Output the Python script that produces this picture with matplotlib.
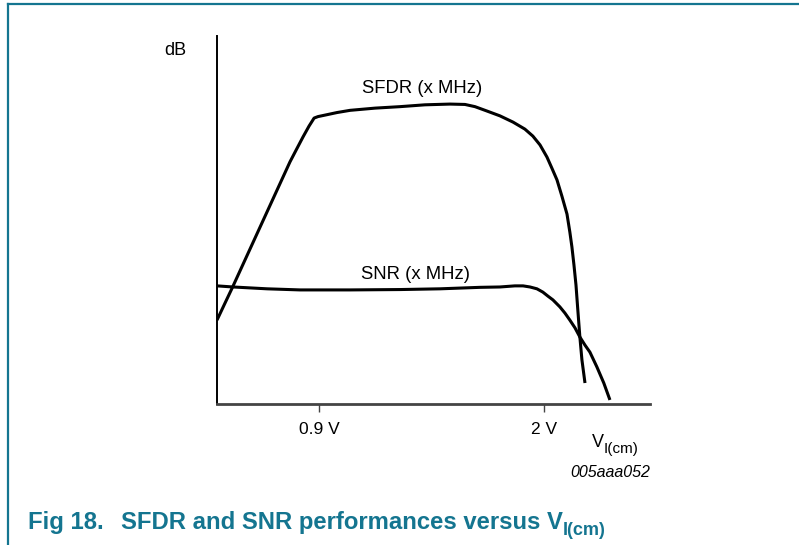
import matplotlib
matplotlib.use("Agg")
import matplotlib.pyplot as plt
from matplotlib.lines import Line2D

plt.rcParams['font.family'] = ['Liberation Sans', 'DejaVu Sans']

# SFDR curve (V, relative dB)
sfdr_v = [0.401, 0.440, 0.475, 0.616, 0.758, 0.788, 0.822, 0.851, 0.876, 0.895,
          0.929, 0.988, 1.052, 1.174, 1.296, 1.418, 1.541, 1.614, 1.663, 1.722,
          1.785, 1.849, 1.907, 1.946, 1.981, 2.015, 2.039, 2.064, 2.088, 2.113,
          2.127, 2.137, 2.147, 2.157, 2.166, 2.176, 2.186, 2.201]
sfdr_db = [22.8, 27.4, 31.5, 48.6, 65.8, 69.0, 72.6, 75.5, 77.7, 78.1,
           78.5, 79.2, 79.8, 80.4, 80.8, 81.3, 81.5, 81.4, 80.8, 79.6,
           78.3, 76.6, 74.7, 72.8, 70.4, 67.1, 64.1, 60.9, 56.5, 51.6,
           46.7, 42.7, 37.8, 32.3, 25.5, 18.2, 12.0, 5.7]

# SNR curve
snr_v = [0.401, 0.479, 0.646, 0.807, 1.052, 1.296, 1.492, 1.687, 1.785, 1.858,
         1.898, 1.932, 1.966, 1.995, 2.020, 2.044, 2.078, 2.103, 2.127, 2.152,
         2.176, 2.201, 2.225, 2.259, 2.293, 2.323]
snr_db = [32.1, 31.8, 31.3, 31.0, 31.0, 31.1, 31.3, 31.7, 31.8, 32.1,
          32.1, 31.8, 31.3, 30.4, 29.3, 28.3, 26.4, 24.7, 22.8, 20.7,
          18.2, 16.0, 14.1, 10.1, 5.7, 1.1]

tick_pos = [0.9, 2.0]
tick_labels = ['0.9 V', '2 V']

teal = '#147590'

fig = plt.figure(figsize=(7.99, 5.45), dpi=100)

# frame lines around the figure panel
fig.add_artist(Line2D([8 / 799, 8 / 799], [0, 1 - 4 / 545], color=teal, lw=1.6,
                      transform=fig.transFigure))
fig.add_artist(Line2D([8 / 799, 1], [1 - 4 / 545, 1 - 4 / 545], color=teal, lw=1.6,
                      transform=fig.transFigure))

ax = fig.add_axes([217 / 799, (545 - 404) / 545, (650 - 217) / 799, (404 - 36) / 545])
ax.plot(sfdr_v, sfdr_db, color='black', lw=2.2, solid_capstyle='butt', solid_joinstyle='round')
ax.plot(snr_v, snr_db, color='black', lw=2.2, solid_capstyle='butt', solid_joinstyle='round')

ax.set_xlim(0.401, 2.519)
ax.set_ylim(0, 100)
ax.spines['top'].set_visible(False)
ax.spines['right'].set_visible(False)
ax.spines['left'].set_linewidth(1.4)
ax.spines['bottom'].set_linewidth(2.0)
ax.spines['bottom'].set_color('#444444')
ax.set_yticks([])
ax.set_xticks(tick_pos)
ax.set_xticklabels(tick_labels, fontsize=12.5)
ax.tick_params(axis='x', direction='out', length=6, width=1, pad=7, color='#444444')

ax.text(-0.097, 0.96, 'dB', transform=ax.transAxes, fontsize=13, ha='center', va='center')
ax.text(1.404, 85.6, 'SFDR (x MHz)', fontsize=13.3, ha='center', va='center')
ax.text(1.374, 35.1, 'SNR (x MHz)', fontsize=13.3, ha='center', va='center')

vlab = ax.text(0.866, -0.104, 'V', transform=ax.transAxes, fontsize=13, ha='left', va='center')
ax.annotate('I(cm)', xy=(1, 0), xycoords=vlab, xytext=(0, 1), textcoords='offset points',
            fontsize=11, ha='left', va='center', annotation_clip=False)
ax.text(1.0, -0.185, '005aaa052', transform=ax.transAxes, fontsize=11.5, style='italic',
        ha='right', va='center')

fig.text(28 / 799, 1 - 522 / 545, 'Fig 18.', color=teal, fontsize=17.2,
         fontweight='bold', ha='left', va='center')
title = fig.text(121 / 799, 1 - 522 / 545, 'SFDR and SNR performances versus V',
                 color=teal, fontsize=17.2, fontweight='bold', ha='left', va='center')
ax.annotate('I(cm)', xy=(1, 0), xycoords=title, xytext=(0, 2), textcoords='offset points',
            color=teal, fontsize=13, fontweight='bold', ha='left', va='center',
            annotation_clip=False)

fig.savefig('out.png', dpi=100)
